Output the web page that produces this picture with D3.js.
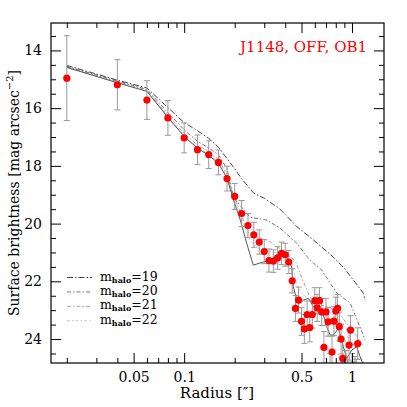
<!DOCTYPE html>
<html>
<head>
  <meta charset="UTF-8">
  <title>J1148, OFF, OB1 surface brightness</title>
</head>
<style>
  body { margin: 0; background: #fff; }
  #chart text { font-family: "DejaVu Serif", serif; }
</style>
<body>

<svg id="chart" width="407" height="407"></svg>

<script src="https://cdn.jsdelivr.net/npm/d3@7/dist/d3.min.js"></script>
<script>
  // Measured profile (radius in arcsec, SB in mag/arcsec^2)
  var radius = [0.02, 0.04, 0.06, 0.08, 0.10, 0.12, 0.14, 0.16, 0.18, 0.20,
                0.22, 0.24, 0.26, 0.28, 0.30, 0.32, 0.34, 0.36, 0.38, 0.40,
                0.42, 0.44, 0.46, 0.48, 0.50, 0.52, 0.54, 0.56, 0.58, 0.60,
                0.62, 0.64, 0.66, 0.68, 0.70, 0.72, 0.74, 0.76, 0.78, 0.80,
                0.82, 0.84, 0.86, 0.88, 0.90, 0.92, 0.94, 0.96, 0.98, 1.00,
                1.02, 1.04, 1.06, 1.08];
  var surfBright = [14.96, 15.19, 15.72, 16.34, 17.03, 17.44, 17.61, 17.88, 18.44, 19.06,
                    19.65, 20.07, 20.39, 20.64, 20.97, 21.28, 21.30, 21.19, 21.03, 21.08,
                    21.33, 21.98, 22.94, 22.65, 23.39, 23.65, 23.15, 23.60, 23.15, 22.67,
                    22.92, 22.67, 23.06, 24.29, 23.06, 23.40, 25.10, 24.45, 23.38, 23.03,
                    22.94, 23.57, 24.00, 24.67, 25.20, 25.00, 25.30, 24.21, 23.69, 25.10,
                    25.40, 25.20, 25.30, 24.16];
  var sbError = [1.47, 0.87, 0.67, 0.60, 0.52, 0.51, 0.48, 0.43, 0.43, 0.45,
                 0.45, 0.42, 0.43, 0.42, 0.42, 0.40, 0.39, 0.39, 0.39, 0.40,
                 0.40, 0.42, 0.45, 0.45, 0.48, 0.50, 0.47, 0.50, 0.47, 0.45,
                 0.47, 0.45, 0.47, 0.55, 0.47, 0.50, 0.60, 0.55, 0.50, 0.48,
                 0.48, 0.50, 0.52, 0.60, 0.60, 0.60, 0.60, 0.55, 0.50, 0.60,
                 0.60, 0.60, 0.60, 0.55];

  // Solid model curve
  var fitRadius = [0.02, 0.04, 0.06, 0.08, 0.10, 0.12, 0.14, 0.16, 0.18, 0.197,
                   0.216, 0.236, 0.258, 0.296, 0.34, 0.40, 0.437, 0.447, 0.469, 0.49,
                   0.513, 0.55, 0.589, 0.63, 0.675, 0.707, 0.74, 0.774, 0.83, 0.888,
                   0.93, 0.996, 1.066, 1.116, 1.168];
  var fitSB = [14.59, 15.12, 15.42, 16.32, 16.98, 17.39, 17.63, 17.91, 18.43, 19.19,
               19.88, 20.69, 21.44, 21.33, 21.24, 21.09, 21.50, 22.19, 22.65, 22.76,
               22.65, 22.59, 22.88, 22.94, 23.17, 23.57, 23.86, 23.86, 23.63, 24.27,
               24.67, 24.38, 24.27, 24.61, 24.90];

  // Halo models
  var halo19Radius = [0.02, 0.04, 0.06, 0.08, 0.10, 0.12, 0.14, 0.16, 0.18, 0.20,
                      0.22, 0.26, 0.30, 0.37, 0.47, 0.59, 0.77, 0.90, 1.02, 1.17, 1.20];
  var halo19SB = [14.52, 15.03, 15.30, 15.98, 16.50, 16.78, 17.05, 17.35, 17.75, 18.10,
                  18.45, 18.95, 19.12, 19.48, 20.11, 20.57, 21.15, 21.55, 21.96, 22.42, 22.65];
  var halo20Radius = [0.02, 0.04, 0.06, 0.08, 0.10, 0.12, 0.14, 0.16, 0.18, 0.196,
                      0.247, 0.311, 0.373, 0.469, 0.562, 0.66, 0.811, 0.973, 1.116, 1.195];
  var halo20SB = [14.55, 15.06, 15.35, 16.15, 16.75, 17.15, 17.38, 17.62, 18.10, 19.09,
                  19.78, 19.88, 20.16, 20.68, 21.27, 21.61, 22.41, 22.75, 23.58, 24.03];
  var halo21Radius = [0.02, 0.04, 0.06, 0.08, 0.10, 0.12, 0.14, 0.16, 0.18, 0.20,
                      0.24, 0.28, 0.32, 0.40, 0.46, 0.49, 0.56, 0.62, 0.81, 0.93, 1.07, 1.17];
  var halo21SB = [14.57, 15.08, 15.37, 16.25, 16.88, 17.28, 17.50, 17.78, 18.30, 19.10,
                  20.30, 20.50, 20.60, 21.00, 21.30, 21.72, 22.54, 22.77, 23.00, 23.46, 23.92, 24.27];
  var halo22Radius = [0.02, 0.04, 0.06, 0.08, 0.10, 0.12, 0.14, 0.16, 0.18, 0.20,
                      0.24, 0.28, 0.34, 0.40, 0.44, 0.47, 0.52, 0.60, 0.70, 0.80,
                      0.90, 1.00, 1.10, 1.20];
  var halo22SB = [14.58, 15.10, 15.40, 16.30, 16.95, 17.35, 17.58, 17.86, 18.38, 19.15,
                  20.50, 20.90, 21.00, 21.00, 21.40, 22.19, 22.50, 22.80, 23.10, 23.40,
                  23.80, 24.10, 24.50, 24.90];

  var haloLabels = ['19', '20', '21', '22'];
  var xMajorTicks = [0.05, 0.1, 0.5, 1];
  var xMinorTicks = [0.02, 0.03, 0.04, 0.06, 0.07, 0.08, 0.09, 0.2, 0.3, 0.4, 0.6, 0.7, 0.8, 0.9];
  var yMajorTicks = [14, 16, 18, 20, 22, 24];
  var yMinorTicks = [13.5, 14.5, 15, 15.5, 16.5, 17, 17.5, 18.5, 19, 19.5, 20.5, 21, 21.5,
                     22.5, 23, 23.5, 24.5];

  var haloColors = ['#444', '#777', '#a8a8a8', '#c8c8c8'];
  var haloDash   = ['6,2,1.5,2', '4,2,1.5,2', '4,2,1.5,2', '3,2,1.5,2'];

  var margin = { left: 51, right: 384, top: 23, bottom: 363 };
  var chart = d3.select('#chart');

  var x = d3.scaleLog().domain([0.0161, 1.55]).range([margin.left, margin.right]);
  var y = d3.scaleLinear().domain([13.05, 24.83]).range([margin.top, margin.bottom]);

  chart.append('clipPath').attr('id', 'plotClip')
    .append('rect')
    .attr('x', margin.left).attr('y', margin.top)
    .attr('width', margin.right - margin.left)
    .attr('height', margin.bottom - margin.top);

  var plot = chart.append('g').attr('clip-path', 'url(#plotClip)');

  // model lines
  var line = d3.line()
    .x(function (d) { return x(d[0]); })
    .y(function (d) { return y(d[1]); });

  var halos = [
    d3.zip(halo22Radius, halo22SB),
    d3.zip(halo21Radius, halo21SB),
    d3.zip(halo20Radius, halo20SB),
    d3.zip(halo19Radius, halo19SB)
  ];
  halos.forEach(function (pts, k) {
    var i = 3 - k;
    plot.append('path')
      .attr('d', line(pts))
      .attr('fill', 'none')
      .attr('stroke', haloColors[i])
      .attr('stroke-width', 1)
      .attr('stroke-dasharray', haloDash[i]);
  });

  plot.append('path')
    .attr('d', line(d3.zip(fitRadius, fitSB)))
    .attr('fill', 'none')
    .attr('stroke', '#555')
    .attr('stroke-width', 1);

  // error bars
  var data = radius.map(function (r, i) {
    return { r: r, sb: surfBright[i], err: sbError[i] };
  });

  var bars = plot.selectAll('g.err').data(data).enter()
    .append('g').attr('class', 'err')
    .attr('stroke', '#999').attr('stroke-width', 1);
  bars.append('line')
    .attr('x1', function (d) { return x(d.r); })
    .attr('x2', function (d) { return x(d.r); })
    .attr('y1', function (d) { return y(d.sb - d.err); })
    .attr('y2', function (d) { return y(d.sb + d.err); });
  bars.append('line')
    .attr('x1', function (d) { return x(d.r) - 3; })
    .attr('x2', function (d) { return x(d.r) + 3; })
    .attr('y1', function (d) { return y(d.sb - d.err); })
    .attr('y2', function (d) { return y(d.sb - d.err); });
  bars.append('line')
    .attr('x1', function (d) { return x(d.r) - 3; })
    .attr('x2', function (d) { return x(d.r) + 3; })
    .attr('y1', function (d) { return y(d.sb + d.err); })
    .attr('y2', function (d) { return y(d.sb + d.err); });

  plot.selectAll('circle').data(data).enter()
    .append('circle')
    .attr('cx', function (d) { return x(d.r); })
    .attr('cy', function (d) { return y(d.sb); })
    .attr('r', 3.6)
    .attr('fill', '#ff0000');

  // axes, ticks pointing inward on all four sides
  function drawAxis(axisFn, scale, values, size, pos, labels) {
    var a = axisFn(scale).tickValues(values).tickSize(size).tickSizeOuter(0);
    if (labels) a.tickFormat(d3.format('')).tickPadding(9);
    else a.tickFormat('');
    var g = chart.append('g').attr('transform', pos).call(a);
    g.select('.domain').remove();
    g.selectAll('.tick line').attr('stroke', '#000');
    g.selectAll('text').attr('font-size', 14).attr('fill', '#000');
    return g;
  }

  var bottomT = 'translate(0,' + margin.bottom + ')';
  var topT    = 'translate(0,' + margin.top + ')';
  var leftT   = 'translate(' + margin.left + ',0)';
  var rightT  = 'translate(' + margin.right + ',0)';

  drawAxis(d3.axisBottom, x, xMajorTicks, -10, bottomT, true);
  drawAxis(d3.axisBottom, x, xMinorTicks, -5, bottomT, false);
  drawAxis(d3.axisTop, x, xMajorTicks, -10, topT, false);
  drawAxis(d3.axisTop, x, xMinorTicks, -5, topT, false);
  drawAxis(d3.axisLeft, y, yMajorTicks, -10, leftT, true);
  drawAxis(d3.axisLeft, y, yMinorTicks, -5, leftT, false);
  drawAxis(d3.axisRight, y, yMajorTicks, -10, rightT, false);
  drawAxis(d3.axisRight, y, yMinorTicks, -5, rightT, false);

  chart.append('rect')
    .attr('x', margin.left).attr('y', margin.top)
    .attr('width', margin.right - margin.left)
    .attr('height', margin.bottom - margin.top)
    .attr('fill', 'none').attr('stroke', '#000').attr('stroke-width', 1.2);

  // axis titles
  chart.append('text')
    .attr('x', 217).attr('y', 398)
    .attr('text-anchor', 'middle').attr('font-size', 15)
    .text('Radius [\u2033]');

  var ylab = chart.append('text')
    .attr('transform', 'translate(19,' + ((margin.top + margin.bottom) / 2) + ') rotate(-90)')
    .attr('text-anchor', 'middle').attr('font-size', 14);
  ylab.append('tspan').text('Surface brightness [mag arcsec');
  ylab.append('tspan').attr('font-size', 10).attr('dy', -6).text('\u22122');
  ylab.append('tspan').attr('dy', 6).text(']');

  // label
  chart.append('text')
    .attr('x', 367).attr('y', 52)
    .attr('text-anchor', 'end').attr('font-size', 15)
    .attr('fill', '#ff0000')
    .text('J1148, OFF, OB1');

  // legend
  var legend = chart.append('g');
  haloLabels.forEach(function (lab, i) {
    var ly = 277.5 + i * 14.4;
    legend.append('line')
      .attr('x1', 67).attr('x2', 92).attr('y1', ly).attr('y2', ly)
      .attr('stroke', haloColors[i]).attr('stroke-width', 1)
      .attr('stroke-dasharray', haloDash[i]);
    var t = legend.append('text')
      .attr('x', 100).attr('y', ly + 3).attr('font-size', 12.5);
    t.append('tspan').text('m');
    t.append('tspan').attr('font-size', 8).attr('font-weight', 'bold').attr('dy', 2).text('halo');
    t.append('tspan').attr('dy', -2).text('=' + lab);
  });
</script>
</body>
</html>
